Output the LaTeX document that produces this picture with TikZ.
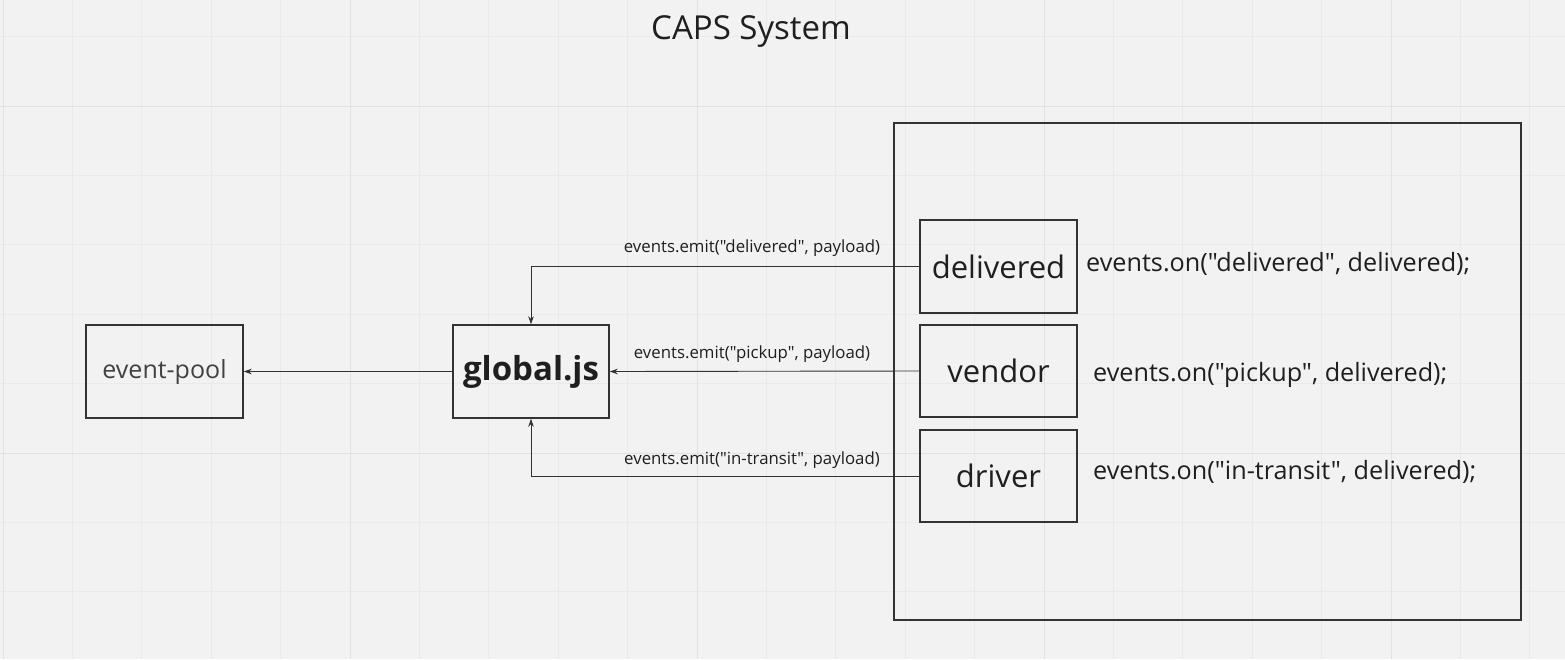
\documentclass[tikz,border=0pt]{standalone}
\usepackage{fontspec}
\setmainfont{Open Sans}
\newfontfamily\osans{Open Sans}
\usetikzlibrary{arrows.meta}
\definecolor{bg}{HTML}{F2F2F2}
\definecolor{gridminor}{HTML}{EAEAEA}
\definecolor{gridmajor}{HTML}{E2E2E2}
\definecolor{ink}{HTML}{1F1F1F}
\definecolor{linec}{HTML}{333333}
\tikzset{
  box/.style={draw=linec, line width=1.4pt, inner sep=0pt, text=ink},
  conn/.style={draw=linec, line width=0.9pt, -{Stealth[length=8pt,width=5.5pt]}},
  lbl/.style={text=ink, inner sep=0pt, font=\osans\fontsize{16.8}{20}\selectfont},
  ontext/.style={text=ink, inner sep=0pt, anchor=west, font=\osans\fontsize{25.2}{30}\selectfont},
}
\begin{document}
\begin{tikzpicture}[x=1pt,y=-1pt]
\fill[bg] (0,0) rectangle (1565,659);
\useasboundingbox (0,0) rectangle (1565,659);
% grid
\foreach \i in {0,...,22} {
  \pgfmathsetmacro{\xx}{3+69.4*\i}
  \draw[gridminor, line width=0.8pt] (\xx,0) -- (\xx,659);
}
\foreach \i in {-1,...,9} {
  \pgfmathsetmacro{\yy}{106+69.4*\i}
  \draw[gridminor, line width=0.8pt] (0,\yy) -- (1565,\yy);
}
\foreach \i in {0,...,4} {
  \pgfmathsetmacro{\xx}{3+347*\i}
  \draw[gridmajor, line width=1pt] (\xx,0) -- (\xx,659);
}
\foreach \yy in {106,453} {
  \draw[gridmajor, line width=1pt] (0,\yy) -- (1565,\yy);
}
% title
\node[text=ink, font=\fontsize{33}{40}\selectfont, inner sep=0pt] (title) at (751,32) {CAPS System};
% container
\node[box, minimum width=627pt, minimum height=497pt] (container) at (1207.5,371.5) {};
% boxes
\node[box, minimum width=157pt, minimum height=93pt, font=\fontsize{31}{37}\selectfont] (delivered) at (998.5,266.5) {delivered};
\node[box, minimum width=157pt, minimum height=92pt, font=\fontsize{31}{37}\selectfont] (vendor) at (998.5,371) {\raisebox{1.5pt}{vendor}};
\node[box, minimum width=157pt, minimum height=92pt, font=\fontsize{31}{37}\selectfont] (driver) at (998.5,476) {driver};
\node[box, minimum width=156pt, minimum height=93pt, font=\fontsize{33}{40}\selectfont\bfseries] (global) at (531,371.5) {global.js};
\node[box, minimum width=157pt, minimum height=93pt, font=\fontsize{25}{30}\selectfont, text=ink!85] (pool) at (164.5,371.5) {event-pool};
% connectors
\draw[conn] (delivered.west) -- (global.north |- delivered.west) -- (global.north);
\draw[conn] (vendor.west) -- (global.east);
\draw[conn] (driver.west) -- (global.south |- driver.west) -- (global.south);
\draw[conn] (global.west) -- (pool.east);
% labels
\node[lbl] (l1) at (752,248) {events.emit("delivered", payload)};
\node[lbl] (l2) at (752,354) {events.emit("pickup", payload)};
\node[lbl] (l3) at (752,460) {events.emit("in-transit", payload)};
\node[ontext] (o1) at (1086,264) {events.on("delivered", delivered);};
\node[ontext] (o2) at (1093,375) {events.on("pickup", delivered);};
\node[ontext] (o3) at (1093,472) {events.on("in-transit", delivered);};
\end{tikzpicture}
\end{document}
